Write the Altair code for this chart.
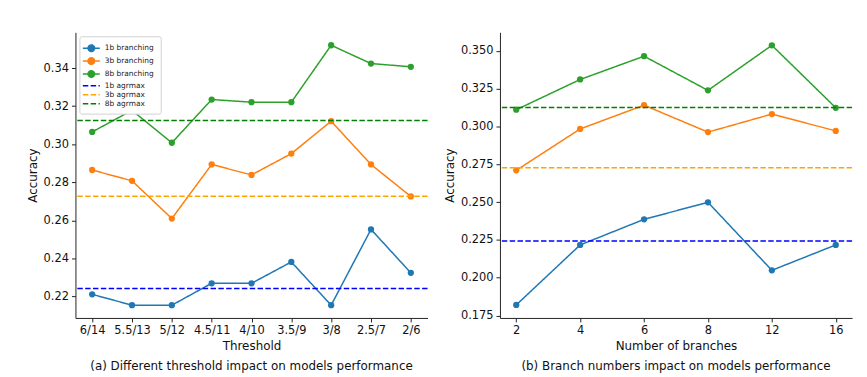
import altair as alt
import pandas as pd

# ---- data ----
thresholds = ["6/14", "5.5/13", "5/12", "4.5/11", "4/10", "3.5/9", "3/8", "2.5/7", "2/6"]
thr_1b = [0.2212, 0.2155, 0.2155, 0.2270, 0.2270, 0.2382, 0.2155, 0.2553, 0.2325]
thr_3b = [0.2865, 0.2808, 0.2610, 0.2894, 0.2839, 0.2951, 0.3121, 0.2894, 0.2726]
thr_8b = [0.3065, 0.3178, 0.3008, 0.3235, 0.3221, 0.3221, 0.3520, 0.3424, 0.3407]

branches = ["2", "4", "6", "8", "12", "16"]
br_1b = [0.1820, 0.2217, 0.2386, 0.2499, 0.2049, 0.2217]
br_3b = [0.2710, 0.2984, 0.3141, 0.2963, 0.3082, 0.2971]
br_8b = [0.3111, 0.3311, 0.3465, 0.3239, 0.3537, 0.3124]

agrmax_labels = ["1b agrmax", "3b agrmax", "8b agrmax"]
agrmax_values = [0.2243, 0.2727, 0.3125]

series_names = ["1b branching", "3b branching", "8b branching",
                "1b agrmax", "3b agrmax", "8b agrmax"]
series_colors = ["#1f77b4", "#ff7f0e", "#2ca02c", "#0000ff", "#ffa500", "#008000"]
series_dash = [[1, 0], [1, 0], [1, 0], [5.5, 2.4], [5.5, 2.4], [5.5, 2.4]]
line_path = "M-1.9,0L1.9,0"
marker_path = ("M-1.9,0L1.9,0M0.73,0A0.73,0.73,0,1,1,-0.73,0"
               "A0.73,0.73,0,1,1,0.73,0Z")
series_shapes = [marker_path, marker_path, marker_path, line_path, line_path, line_path]

FONT = "DejaVu Sans"


def long_table(cats, s1, s3, s8):
    rows = []
    for name, vals in zip(series_names[:3], [s1, s3, s8]):
        for c, v in zip(cats, vals):
            rows.append({"cat": c, "acc": v, "series": name})
    return pd.DataFrame(rows)


rules_df = pd.DataFrame({"series": agrmax_labels, "acc": agrmax_values})


def panel(cats, s1, s3, s8, xtitle, caption, ydomain, yticks, yfmt, xpad, legend):
    df = long_table(cats, s1, s3, s8)
    xenc = alt.X("cat:O", sort=cats, title=xtitle,
                 scale=alt.Scale(type="point", padding=xpad),
                 axis=alt.Axis(labelAngle=0))
    yenc = alt.Y("acc:Q", title="Accuracy",
                 scale=alt.Scale(domain=ydomain, nice=False, zero=False),
                 axis=alt.Axis(values=yticks, format=yfmt))
    dom = alt.Scale(domain=series_names, range=series_colors)
    dash = alt.Scale(domain=series_names, range=series_dash)
    shp = alt.Scale(domain=series_names, range=series_shapes)
    if legend:
        leg = alt.Legend(title=None, orient="top-left", offset=4,
                         labelFont=FONT, labelFontSize=7.5, labelColor="#222",
                         symbolSize=81, symbolStrokeWidth=1.5,
                         rowPadding=0, padding=6.5, cornerRadius=2,
                         fillColor="white", strokeColor="#d0d0d0",
                         labelOffset=8)
    else:
        leg = None

    lines = alt.Chart(df).mark_line(strokeWidth=1.5).encode(
        x=xenc, y=yenc,
        stroke=alt.Stroke("series:N", scale=dom, legend=leg),
        strokeDash=alt.StrokeDash("series:N", scale=dash, legend=leg),
    )
    pts = alt.Chart(df).mark_point(filled=True, size=40, opacity=1, shape="circle").encode(
        x=xenc, y=yenc,
        fill=alt.Fill("series:N", scale=dom, legend=leg),
    )
    rules = alt.Chart(rules_df).mark_rule(strokeWidth=1.5).encode(
        y=alt.Y("acc:Q"),
        stroke=alt.Stroke("series:N", scale=dom, legend=leg),
        strokeDash=alt.StrokeDash("series:N", scale=dash, legend=leg),
    )
    layers = [lines, pts, rules]
    if legend:
        hidden = alt.Chart(rules_df).transform_filter("false").mark_point(
            filled=True, opacity=1).encode(
            y=alt.Y("acc:Q"),
            shape=alt.Shape("series:N", scale=shp, legend=leg),
            fill=alt.Fill("series:N", scale=dom, legend=leg),
            stroke=alt.Stroke("series:N", scale=dom, legend=leg),
            strokeDash=alt.StrokeDash("series:N", scale=dash, legend=leg),
        )
        layers.append(hidden)
    return alt.layer(*layers).properties(
        width=355, height=288,
        title=alt.TitleParams(caption, orient="bottom", font=FONT, fontSize=12,
                              fontWeight="normal", color="#111", offset=10)
    )


left = panel(thresholds, thr_1b, thr_3b, thr_8b, "Threshold",
             "(a) Different threshold impact on models performance",
             [0.2088, 0.3588], [0.22, 0.24, 0.26, 0.28, 0.30, 0.32, 0.34], ".2f",
             0.42, True)
right = panel(branches, br_1b, br_3b, br_8b, "Number of branches",
              "(b) Branch numbers impact on models performance",
              [0.1734, 0.3623], [0.175, 0.2, 0.225, 0.25, 0.275, 0.3, 0.325, 0.35], ".3f",
              0.255, False)

chart = alt.hconcat(left, right, spacing=13).resolve_scale(
    stroke="independent", fill="independent", strokeDash="independent",
    shape="independent"
).resolve_legend(
    stroke="independent", fill="independent", strokeDash="independent",
    shape="independent"
).properties(
    padding={"left": 17, "top": 22, "right": 5, "bottom": 0}
).configure_view(
    stroke="transparent"
).configure_axis(
    labelFont=FONT, titleFont=FONT, labelFontSize=11.5, titleFontSize=12,
    titleFontWeight="normal", labelColor="#111", titleColor="#111",
    domainColor="#222", tickColor="#222", tickSize=4, grid=False,
    labelPadding=3, titlePadding=4
).configure_legend(
    labelFont=FONT
)

chart.save("out.html", embed_options={"renderer": "svg", "actions": False})
